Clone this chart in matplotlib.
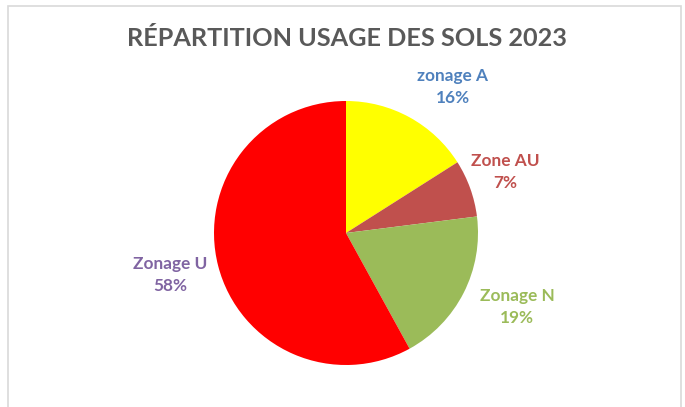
import matplotlib
matplotlib.use("Agg")
import matplotlib.pyplot as plt
from matplotlib.patches import Rectangle

# data
categories = ["zonage A", "Zone AU", "Zonage N", "Zonage U"]
shares = [16, 7, 19, 58]
slice_colors = ["#FFFF00", "#C0504D", "#9BBB59", "#FF0000"]
label_colors = ["#4F81BD", "#C0504D", "#9BBB59", "#8064A2"]

plt.rcParams['font.family'] = ['Lato', 'DejaVu Sans']

W, H = 685, 407
fig = plt.figure(figsize=(W / 100, H / 100), dpi=100)
ax = fig.add_axes([0, 0, 1, 1])

# chart frame (like an Excel chart area)
ax.add_patch(Rectangle((8, -5), 673, H - 6 + 5, fill=False, edgecolor="#D9D9D9", linewidth=1.2))

wedges, _ = ax.pie(shares, colors=slice_colors, startangle=90, counterclock=False,
                   center=(346, 174), radius=132, frame=True)
ax.set_xlim(0, W)
ax.set_ylim(0, H)
ax.set_aspect('equal')
ax.axis('off')

# label positions (pixel coords, best-fit like Excel)
label_pos = [(453, 320), (505, 235), (517, 100), (170, 132)]
for name, val, col, (x, y) in zip(categories, shares, label_colors, label_pos):
    ax.text(x, y, f"{name}\n{val}%", ha='center', va='center', color=col,
            fontsize=12.4, fontweight='bold', linespacing=1.45)

ax.text(347, 368, "RÉPARTITION USAGE DES SOLS 2023", ha='center', va='center',
        color="#595959", fontsize=18.2, fontweight='bold')

fig.savefig("out.png", dpi=100)
